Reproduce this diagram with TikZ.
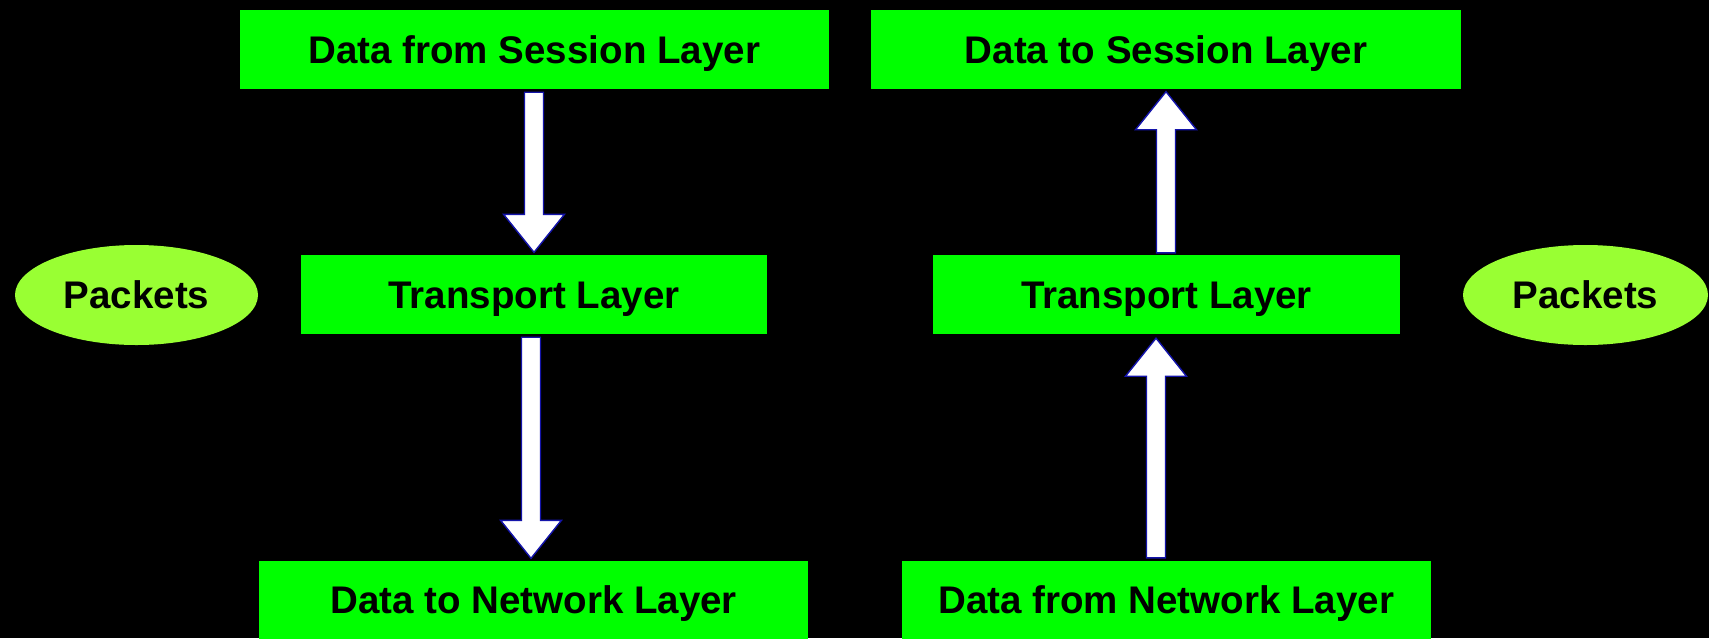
\documentclass[tikz,border=0pt]{standalone}
\usepackage{fontspec}
\setmainfont{Liberation Sans}
\usetikzlibrary{calc,shapes.geometric}
\definecolor{boxgreen}{HTML}{00FF00}
\definecolor{ellgreen}{HTML}{99FF33}
\definecolor{arrowblue}{RGB}{20,20,170}
\tikzset{
  layerbox/.style={draw=none, fill=boxgreen, inner sep=0pt, minimum height=79pt,
    text height=27.6pt, text depth=0pt, font=\fontsize{38.5}{44}\selectfont\bfseries, text=black},
  pktell/.style={ellipse, draw=none, fill=ellgreen, inner sep=0pt, minimum width=243pt, minimum height=100pt,
    text height=27.6pt, text depth=0pt, font=\fontsize{38.5}{44}\selectfont\bfseries, text=black},
  blockarr/.style={draw=arrowblue, line width=1.4pt, fill=white, line join=miter}
}
\newcommand\arrowdown[2]{%
  \draw[blockarr] let \p1=(#1), \p2=(#2) in
    (\x1-9.5pt,\y1) -- (\x1-9.5pt,\y2+38pt) -- (\x1-30.5pt,\y2+38pt) -- (\x1,\y2)
    -- (\x1+30.5pt,\y2+38pt) -- (\x1+9.5pt,\y2+38pt) -- (\x1+9.5pt,\y1) -- cycle;}
\newcommand\arrowup[2]{%
  \draw[blockarr] let \p1=(#1), \p2=(#2) in
    (\x1-9.5pt,\y1) -- (\x1-9.5pt,\y2-38pt) -- (\x1-30.5pt,\y2-38pt) -- (\x1,\y2)
    -- (\x1+30.5pt,\y2-38pt) -- (\x1+9.5pt,\y2-38pt) -- (\x1+9.5pt,\y1) -- cycle;}
\begin{document}
\begin{tikzpicture}[x=1pt,y=-1pt]
\useasboundingbox (0,0) rectangle (1709,638);
\fill[black] (0,0) rectangle (1709,638);
\begin{scope}
\clip (0,0) rectangle (1709,638);
% left column
\node[layerbox, minimum width=589pt] (s1) at (534.3,49.5) {Data from Session Layer};
\node[layerbox, minimum width=466pt] (t1) at (534,294.5) {Transport Layer};
\node[layerbox, minimum width=549pt] (n1) at (533.75,600) {Data to Network Layer};
\node[pktell] (p1) at (136.5,295) {Packets};
% right column
\node[layerbox, minimum width=590pt] (s2) at (1166,49.5) {Data to Session Layer};
\node[layerbox, minimum width=467pt] (t2) at (1166.5,294.5) {Transport Layer};
\node[layerbox, minimum width=529pt] (n2) at (1166.25,600) {Data from Network Layer};
\node[pktell, minimum width=245pt] (p2) at (1585.5,295) {Packets};
\end{scope}
% connectors
\coordinate (a1s) at ($(s1.south)+(-0.3,3)$);
\coordinate (a1e) at ($(t1.north)+(0,-2.5)$);
\coordinate (a2s) at ($(t1.south)+(-3,3)$);
\coordinate (a2e) at ($(n1.north)+(-2.75,-2)$);
\coordinate (a3s) at ($(t2.north)+(-0.5,-2)$);
\coordinate (a3e) at ($(s2.south)+(0,2.5)$);
\coordinate (a4s) at ($(n2.north)+(-10.25,-2.5)$);
\coordinate (a4e) at ($(t2.south)+(-10.5,4)$);
\arrowdown{a1s}{a1e}
\arrowdown{a2s}{a2e}
\arrowup{a3s}{a3e}
\arrowup{a4s}{a4e}
\end{tikzpicture}
\end{document}
